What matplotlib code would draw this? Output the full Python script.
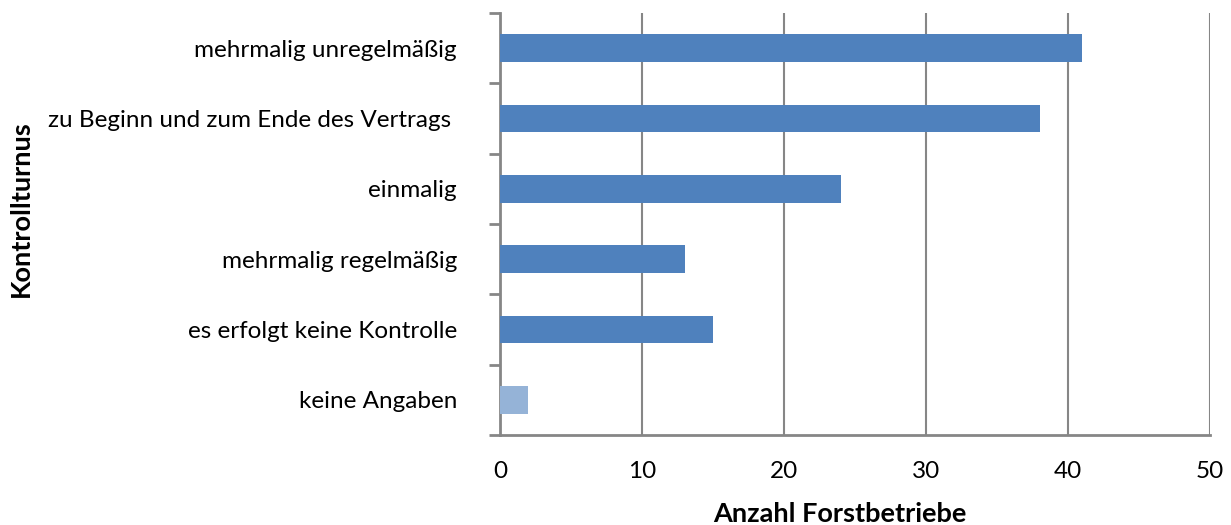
import matplotlib
matplotlib.use("Agg")
import matplotlib.pyplot as plt

categories = ["mehrmalig unregelmäßig", "zu Beginn und zum Ende des Vertrags ",
              "einmalig", "mehrmalig regelmäßig", "es erfolgt keine Kontrolle",
              "keine Angaben"]
values = [41, 38, 24, 13, 15, 2]
colors = ["#4F81BD"] * 5 + ["#95B3D7"]
xticks = [0, 10, 20, 30, 40, 50]

plt.rcParams['font.family'] = ['Lato', 'DejaVu Sans']

fig = plt.figure(figsize=(12.31, 5.25), dpi=100)
ax = fig.add_axes([500/1231, 1-435/525, 710/1231, 422/525])

n = len(categories)
ypos = list(range(n))
ax.barh(ypos, values, height=0.39, color=colors, zorder=3)
ax.set_ylim(n - 0.5, -0.5)
ax.set_xlim(0, 50)
ax.set_xticks(xticks)
ax.set_xticklabels([str(t) for t in xticks], fontsize=17.5)
ax.set_yticks(ypos)
ax.set_yticklabels(categories, fontsize=17.5)
ax.set_yticks([i - 0.5 for i in range(n + 1)], minor=True)

ax.tick_params(axis='y', which='major', length=0, pad=31)
ax.tick_params(axis='y', which='minor', length=8, width=2, color='#868686')
ax.tick_params(axis='x', length=0, pad=19)

ax.grid(axis='x', color='#868686', linewidth=1.5, zorder=0)
for s in ['left', 'bottom']:
    ax.spines[s].set_color('#868686')
    ax.spines[s].set_linewidth(2)
for s in ['top', 'right']:
    ax.spines[s].set_visible(False)

ax.set_xlabel("Anzahl Forstbetriebe", fontsize=19.5, fontweight='bold')
ax.xaxis.set_label_coords((840-500)/710, (435-502)/422)
ax.set_ylabel("Kontrollturnus", fontsize=19.5, fontweight='bold')
ax.yaxis.set_label_coords((33-500)/710, (435-209)/422)

fig.savefig("out.png", dpi=100)
